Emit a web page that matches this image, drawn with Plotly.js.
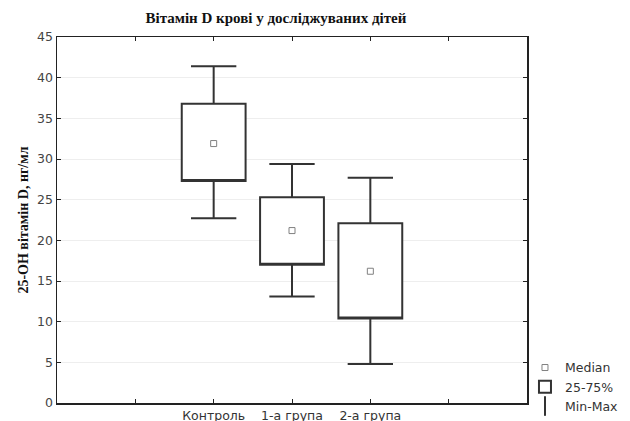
<!DOCTYPE html>
<html>
<head>
<meta charset="utf-8">
<script src="https://cdn.plot.ly/plotly-3.0.1.min.js"></script>
<style>html,body{margin:0;padding:0;background:#fff;}#chart{width:630px;height:421px;}</style>
</head>
<body>
<div id="chart"></div>
<script>
var categories = ['Контроль', '1-а група', '2-а група'];
var minVals = [22.7, 13.1, 4.8];
var q1Vals = [27.3, 17.0, 10.4];
var medianVals = [31.9, 21.2, 16.2];
var q3Vals = [36.8, 25.3, 22.1];
var maxVals = [41.4, 29.4, 27.7];
var yTicks = [0, 5, 10, 15, 20, 25, 30, 35, 40, 45];
var legendLabels = ['Median', '25-75%', 'Min-Max'];

var ink = '#333333';
var tickFont = 'DejaVu Sans, Liberation Sans, Arial, sans-serif';
var serifFont = 'Liberation Serif, Times New Roman, serif';

var traces = [
  {
    type: 'box',
    name: legendLabels[1],
    x: categories,
    q1: q1Vals,
    median: q1Vals,
    q3: q3Vals,
    lowerfence: minVals,
    upperfence: maxVals,
    width: 0.815,
    whiskerwidth: 0.71,
    fillcolor: '#ffffff',
    line: {color: ink, width: 2},
    boxpoints: false,
    hoverinfo: 'skip',
    legendrank: 2
  },
  {
    type: 'scatter',
    mode: 'markers',
    name: legendLabels[0],
    x: categories,
    y: medianVals,
    marker: {symbol: 'square-open', size: 6, color: '#808080', line: {width: 1}},
    hoverinfo: 'skip',
    legendrank: 1
  },
  {
    type: 'scatter',
    mode: 'markers',
    name: legendLabels[2],
    x: [null],
    y: [null],
    marker: {symbol: 'line-ns-open', size: 14, color: ink, line: {width: 2, color: ink}},
    legendrank: 3
  }
];

var layout = {
  width: 630,
  height: 421,
  margin: {l: 57, r: 103, t: 37, b: 18, autoexpand: false},
  paper_bgcolor: '#ffffff',
  plot_bgcolor: '#ffffff',
  font: {family: tickFont, size: 12.5, color: '#333333'},
  title: {
    text: '<b>Вітамін D крові у досліджуваних дітей</b>',
    font: {family: serifFont, size: 15, color: '#111111'},
    x: 0.438,
    xanchor: 'center',
    xref: 'container',
    y: 0.957,
    yanchor: 'middle',
    yref: 'container'
  },
  xaxis: {
    type: 'category',
    categoryorder: 'array',
    categoryarray: [' '].concat(categories).concat(['  ']),
    range: [-1, 5],
    showline: true,
    linecolor: '#222222',
    linewidth: 1.5,
    mirror: 'ticks',
    ticks: 'inside',
    ticklen: 4,
    tickcolor: '#222222',
    showgrid: false,
    zeroline: false,
    tickfont: {family: tickFont, size: 12.5, color: '#333333'}
  },
  yaxis: {
    range: [0, 45],
    tickvals: yTicks,
    showline: true,
    linecolor: '#222222',
    linewidth: 1.5,
    mirror: 'ticks',
    ticks: 'inside',
    ticklen: 4,
    tickcolor: '#222222',
    showgrid: true,
    gridcolor: '#eeeeee',
    gridwidth: 1,
    zeroline: false,
    tickfont: {family: tickFont, size: 12.5, color: '#444444'},
    title: {
      text: '<b>25-ОН вітамін D, нг/мл</b>',
      font: {family: serifFont, size: 14, color: '#111111'},
      standoff: 5
    }
  },
  showlegend: true,
  legend: {
    x: 0.9957,
    xanchor: 'left',
    y: 0.044,
    yanchor: 'middle',
    bgcolor: 'rgba(0,0,0,0)',
    font: {family: tickFont, size: 12.5, color: '#333333'},
    itemwidth: 30,
    tracegroupgap: 0
  }
};

Plotly.newPlot('chart', traces, layout, {displayModeBar: false, staticPlot: true});
</script>
</body>
</html>
